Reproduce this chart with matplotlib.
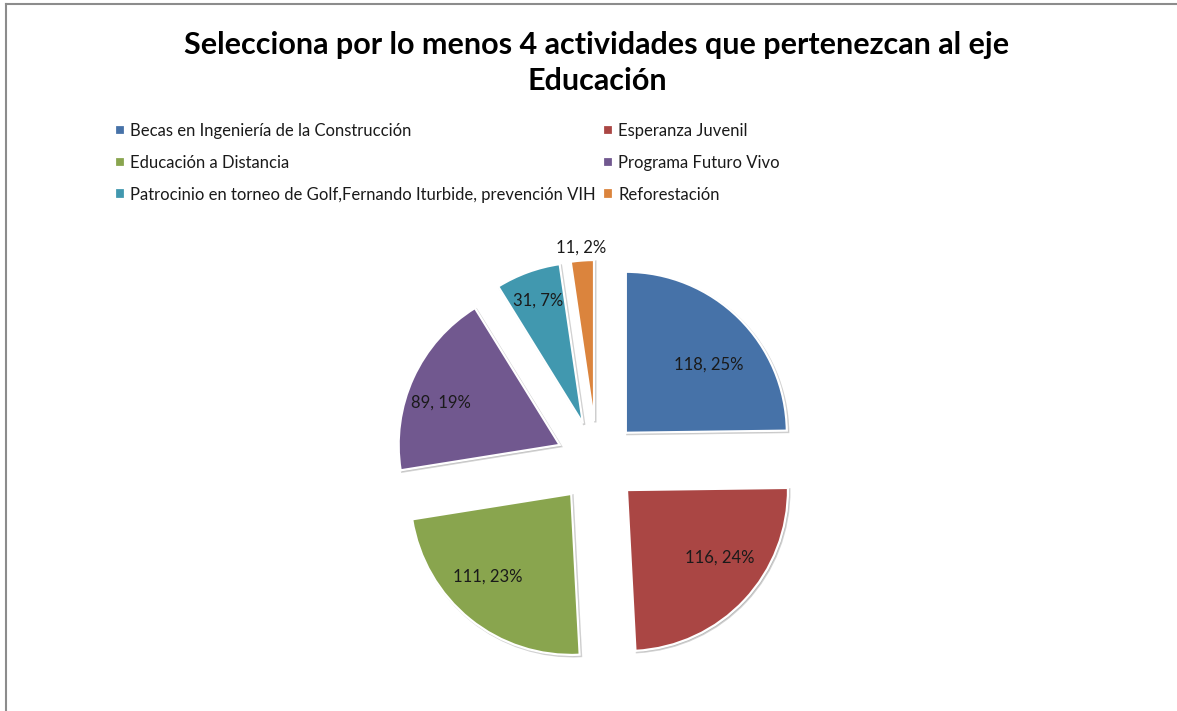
import matplotlib
matplotlib.use("Agg")
import matplotlib.pyplot as plt
import numpy as np
from matplotlib.lines import Line2D

# ---- data ----
categories = [
    "Becas en Ingeniería de la Construcción",
    "Esperanza Juvenil",
    "Educación a Distancia",
    "Programa Futuro Vivo",
    "Patrocinio en torneo de Golf,Fernando Iturbide, prevención VIH",
    "Reforestación",
]
values = [118, 116, 111, 89, 31, 11]
title = "Selecciona por lo menos 4 actividades que pertenezcan al eje\nEducación"

colors = ["#4672A8", "#AA4644", "#89A54E", "#71588F", "#4198AF", "#DB843D"]

W, H = 1177, 711
plt.rcParams['font.family'] = ['Lato', 'DejaVu Sans']
fig = plt.figure(figsize=(W / 100, H / 100), dpi=100)
ax = fig.add_axes([0, 0, 1, 1])

radius = 161
center = (597, H - 462)
explode_frac = 0.255
wedges, _ = ax.pie(
    values, colors=colors, startangle=90, counterclock=False,
    radius=radius, center=center, explode=[explode_frac * radius] * len(values),
    frame=True,
    wedgeprops=dict(edgecolor='white', linewidth=1.6),
    shadow={'ox': 1.0, 'oy': -1.0, 'facecolor': '#9a9a9a',
            'edgecolor': '#9a9a9a', 'alpha': 0.45},
)
ax.set_xlim(0, W)
ax.set_ylim(0, H)
ax.set_aspect('equal')
ax.axis('off')

total = sum(values)
frac = [0.67, 0.71, 0.73, 0.78, 0.81, 1.08]
delta = [-6, 7, -6, 5, 0, 0]
for w, v, f, d in zip(wedges, values, frac, delta):
    mid = (w.theta1 + w.theta2) / 2 + d
    cx, cy = w.center
    x = cx + f * radius * np.cos(np.radians(mid))
    y = cy + f * radius * np.sin(np.radians(mid))
    ax.text(x, y, f"{v}, {round(100 * v / total)}%", ha='center', va='center',
            fontsize=12, color='#1a1a1a')

# title
fig.text(597 / W, 1 - 63 / H, title, ha='center', va='center', fontsize=22,
         fontweight='bold', linespacing=1.35, color='black')

# legend (row-major order as in reference)
order = [0, 2, 4, 1, 3, 5]
leg = fig.legend([wedges[i] for i in order], [categories[i] for i in order],
                 ncol=2, loc='upper left', bbox_to_anchor=(115 / W, 1 - 123 / H),
                 frameon=False, fontsize=12.0, handlelength=0.6, handleheight=0.6,
                 handletextpad=0.3, columnspacing=0.45, labelspacing=0.95,
                 borderaxespad=0, borderpad=0)
for t in leg.get_texts():
    t.set_color('#1a1a1a')

# chart border (top and left visible)
fig.add_artist(Line2D([6 / W, 6 / W], [0, 1 - 4 / H], transform=fig.transFigure,
                      color='#8c8c8c', lw=1.5))
fig.add_artist(Line2D([6 / W, 1], [1 - 4 / H, 1 - 4 / H], transform=fig.transFigure,
                      color='#8c8c8c', lw=1.5))

fig.savefig("out.png", dpi=100)
